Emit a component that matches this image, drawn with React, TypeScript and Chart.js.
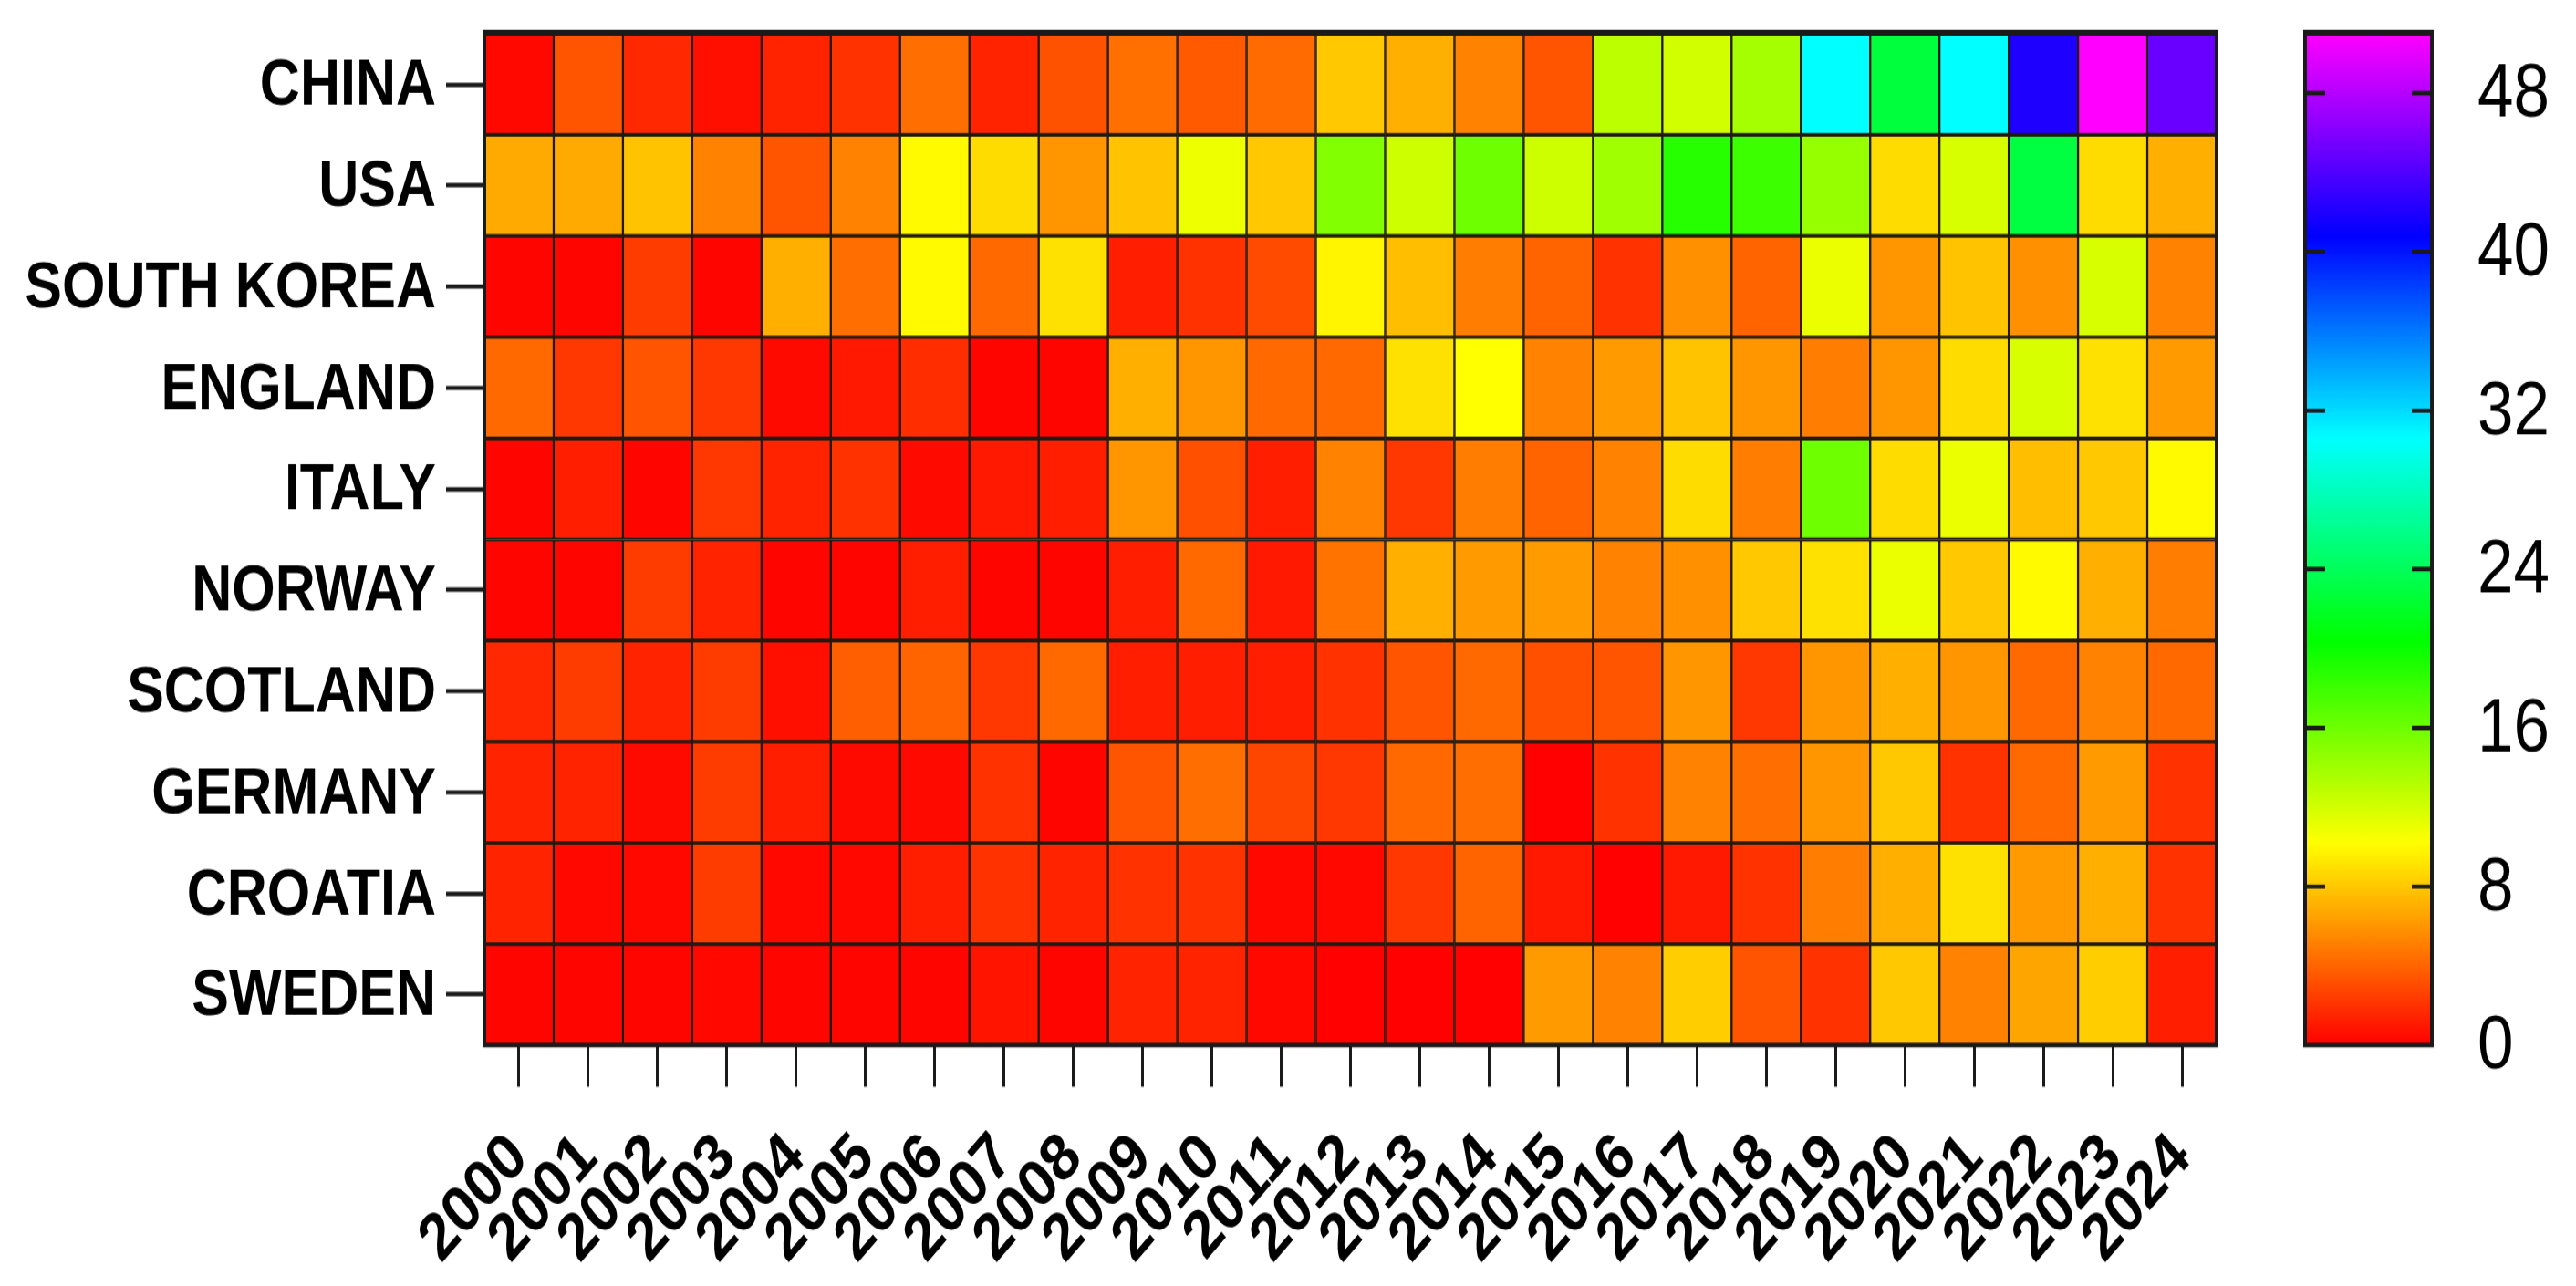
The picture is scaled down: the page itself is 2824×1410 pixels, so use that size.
import { useEffect, useRef } from "react";
import { Chart, registerables } from "chart.js";

Chart.register(...registerables);

const years = [
  "2000", "2001", "2002", "2003", "2004", "2005", "2006", "2007", "2008", "2009", "2010", "2011", "2012",
  "2013", "2014", "2015", "2016", "2017", "2018", "2019", "2020", "2021", "2022", "2023", "2024",
];
const countries = ["CHINA", "USA", "SOUTH KOREA", "ENGLAND", "ITALY", "NORWAY", "SCOTLAND", "GERMANY", "CROATIA", "SWEDEN"];

const china = [0.3, 3.4, 1.6, 0.6, 1.4, 2, 4.4, 1.4, 3.3, 4.5, 3.6, 4.3, 8, 7, 5.2, 3.4, 12.9, 12, 13.8, 30.6, 22.8, 30.6, 42, 51, 45];
const usa = [6.8, 6.8, 7.8, 5.2, 3.4, 5.2, 10, 8.8, 6, 7.8, 10.9, 8, 15.2, 12.2, 16, 12.2, 14, 18.9, 18, 14.4, 8.8, 11.8, 23, 8.8, 7];
const southKorea = [0.2, 0.2, 2.4, 0.2, 7, 4.4, 10, 4.2, 9, 1.2, 2, 3, 9.8, 7.6, 5, 4, 2, 5.8, 4, 11, 6, 7.8, 5.8, 11.8, 5.2];
const england = [4.2, 2.2, 3.4, 2.2, 0.4, 1, 1.8, 0.2, 0.2, 7, 6, 4.2, 4.2, 9, 10.2, 5.2, 6.2, 7.8, 6, 5, 6, 8.8, 11.8, 9, 6.2];
const italy = [0.2, 1.2, 0.2, 2.2, 1.4, 2, 0.4, 1, 1.2, 6, 3.2, 1.2, 5.2, 2.2, 5, 4, 5.2, 8.8, 5, 16, 8.8, 11, 7.6, 8, 10];
const norway = [0.2, 0.2, 2.4, 1.4, 0.2, 0.2, 1.2, 0.2, 0.2, 1.2, 4.2, 1, 4.6, 7, 6.2, 6.2, 5.2, 5.8, 8, 9, 11, 8, 10, 7, 5];
const scotland = [1.6, 2.4, 1.4, 2.4, 0.6, 3.8, 4, 2.2, 4.2, 1.2, 1.2, 1.2, 2, 3.4, 4.2, 3.2, 3.4, 6, 2.2, 6, 7, 6, 4.2, 5.2, 4.2];
const germany = [1.4, 1.4, 0.4, 2.4, 1.2, 0.4, 0.4, 2, 0.2, 3.4, 4.4, 2.8, 2.2, 4.2, 4.4, 0.1, 2, 5.2, 4.4, 6, 8, 2, 4.2, 6.2, 2];
const croatia = [1.4, 0.3, 0.3, 2.4, 0.3, 0.3, 1.2, 2, 1.4, 2, 2, 0.3, 0.3, 2.2, 4, 1, 0.1, 1, 2, 5, 7, 9, 6.2, 7, 2];
const sweden = [0.2, 0.2, 0.2, 0.3, 0.2, 0.2, 0.2, 0.8, 0.2, 1.4, 1.4, 0.3, 0.1, 0.1, 0.1, 6.2, 5.2, 8.2, 3.4, 2, 8, 5.2, 6.6, 8.2, 1.2];
const rows = [china, usa, southKorea, england, italy, norway, scotland, germany, croatia, sweden];

const scaleMax = 51;
const scaleTicks = [0, 8, 16, 24, 32, 40, 48];
const rainbowStops = ["#ff0000", "#ffff00", "#00ff00", "#00ffff", "#0000ff", "#ff00ff"];

const colorFor = (v: number) => `hsl(${(v / scaleMax) * 300}, 100%, 50%)`;
const INK = "#1a1a1a";

// the original figure is stretched vertically, so draw short and stretch the canvas
const STRETCH = 1.17;
const PAGE_H = 1410;
const DRAW_H = Math.round(PAGE_H / STRETCH);
const TOP = 37 / STRETCH;
const BOTTOM = (PAGE_H - 1146) / STRETCH;

// heavier frame round the plot area, like the original
const framePlugin = {
  id: "frame",
  afterDraw(chart: Chart) {
    const { ctx, chartArea: a } = chart;
    ctx.save();
    ctx.strokeStyle = INK;
    ctx.lineWidth = 4;
    ctx.strokeRect(a.left, a.top, a.right - a.left, a.bottom - a.top);
    ctx.lineWidth = 5;
    ctx.beginPath();
    ctx.moveTo(a.left - 2, a.top - 1);
    ctx.lineTo(a.right + 2, a.top - 1);
    ctx.stroke();
    ctx.restore();
  },
};

// short tick marks on both inner edges of the colour bar
const innerTicksPlugin = {
  id: "innerTicks",
  afterDatasetsDraw(chart: Chart) {
    const { ctx, chartArea: a, scales } = chart;
    ctx.save();
    ctx.strokeStyle = INK;
    ctx.lineWidth = 4;
    scaleTicks.slice(1).forEach((t) => {
      const y = scales.y.getPixelForValue(t);
      ctx.beginPath();
      ctx.moveTo(a.left, y);
      ctx.lineTo(a.left + 22, y);
      ctx.moveTo(a.right - 22, y);
      ctx.lineTo(a.right, y);
      ctx.stroke();
    });
    ctx.restore();
  },
};

// canvas "middle" sits a little high for capitals: push the y labels down to the ticks
const nudgeYLabels = {
  id: "nudgeYLabels",
  beforeDraw(chart: any) {
    const items = chart.scales.y.getLabelItems(chart.chartArea);
    items.forEach((item: any) => {
      item.options.translation[1] += 2.5;
    });
  },
};

export default function App() {
  const heatRef = useRef<HTMLCanvasElement>(null);
  const barRef = useRef<HTMLCanvasElement>(null);

  useEffect(() => {
    document.body.style.margin = "0";
    document.body.style.background = "#fff";
    if (!heatRef.current || !barRef.current) return;

    const heat = new Chart(heatRef.current, {
      type: "bar",
      data: {
        labels: years,
        datasets: rows.map((row, r) => ({
          label: countries[r],
          data: row.map((_, i) => ({ x: years[i], y: [r - 0.5, r + 0.5] })),
          backgroundColor: row.map(colorFor),
          borderColor: "#221a10",
          borderWidth: { left: 1.5, right: 1.5, top: 2, bottom: 2 },
          borderSkipped: false,
          barPercentage: 1,
          categoryPercentage: 1,
          grouped: false,
        })),
      } as any,
      options: {
        responsive: false,
        animation: false,
        devicePixelRatio: 1,
        layout: { padding: { top: TOP, right: 40, left: 0, bottom: 0 } },
        plugins: { legend: { display: false }, tooltip: { enabled: false } },
        scales: {
          x: {
            type: "category",
            afterFit: (s: any) => {
              s.height = BOTTOM;
              s.paddingLeft = 0;
              s.paddingRight = 0;
            },
            grid: { offset: false, drawOnChartArea: false, tickLength: 39, tickWidth: 3, tickColor: INK },
            border: { display: false },
            ticks: {
              autoSkip: false,
              minRotation: 45,
              maxRotation: 45,
              padding: 30,
              color: "#000",
              font: { family: "'Liberation Sans'", weight: "bold", size: 62 },
            },
          },
          y: {
            type: "linear",
            reverse: true,
            min: -0.5,
            max: countries.length - 0.5,
            afterFit: (s: any) => {
              s.width = 531;
              s.paddingTop = 0;
              s.paddingBottom = 0;
            },
            afterBuildTicks: (s: any) => {
              s.ticks = countries.map((_, i) => ({ value: i }));
            },
            grid: { drawOnChartArea: false, tickLength: 42, tickWidth: 4, tickColor: INK },
            border: { display: false },
            ticks: {
              padding: 11,
              color: "#000",
              callback: (v: any) => countries[v],
              font: { family: "'Liberation Sans'", weight: "bold", size: 61 },
            },
          },
        },
      } as any,
      plugins: [framePlugin, nudgeYLabels],
    });

    const bar = new Chart(barRef.current, {
      type: "bar",
      data: {
        labels: [""],
        datasets: [
          {
            data: [[0, scaleMax]],
            barPercentage: 1,
            categoryPercentage: 1,
            borderSkipped: false,
            backgroundColor: (c: any) => {
              const { chartArea, scales, ctx } = c.chart;
              if (!chartArea) return rainbowStops[0];
              const g = ctx.createLinearGradient(0, scales.y.getPixelForValue(0), 0, scales.y.getPixelForValue(scaleMax));
              rainbowStops.forEach((col, i) => g.addColorStop(i / (rainbowStops.length - 1), col));
              return g;
            },
          },
        ],
      } as any,
      options: {
        responsive: false,
        animation: false,
        devicePixelRatio: 1,
        layout: { padding: { top: TOP, left: 57, right: 0, bottom: BOTTOM } },
        plugins: { legend: { display: false }, tooltip: { enabled: false } },
        scales: {
          x: { display: false },
          y: {
            position: "right",
            min: 0,
            max: scaleMax,
            afterFit: (s: any) => {
              s.width = 158;
              s.paddingTop = 0;
              s.paddingBottom = 0;
            },
            afterBuildTicks: (s: any) => {
              s.ticks = scaleTicks.map((value) => ({ value }));
            },
            grid: { display: false, drawTicks: false },
            border: { display: false },
            ticks: {
              padding: 50,
              color: "#000",
              font: { family: "'Liberation Sans'", size: 71 },
            },
          },
        },
      } as any,
      plugins: [innerTicksPlugin, framePlugin, nudgeYLabels],
    });

    return () => {
      heat.destroy();
      bar.destroy();
    };
  }, []);

  return (
    <div style={{ position: "relative", width: 2824, height: PAGE_H, background: "#fff" }}>
      <canvas ref={heatRef} width={2470} height={DRAW_H} style={{ position: "absolute", left: 0, top: 0, width: 2470, height: PAGE_H }} />
      <canvas ref={barRef} width={354} height={DRAW_H} style={{ position: "absolute", left: 2470, top: 0, width: 354, height: PAGE_H }} />
    </div>
  );
}
